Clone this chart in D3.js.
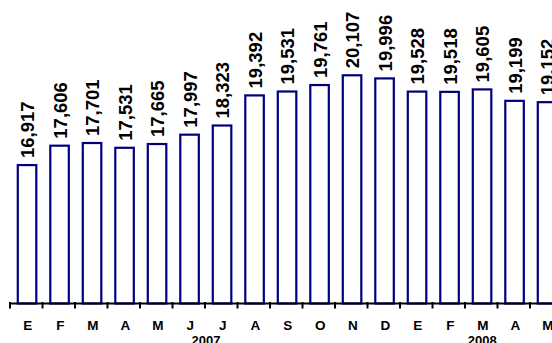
<!DOCTYPE html>
<html>
<head>
<meta charset="utf-8">
<script src="https://cdn.jsdelivr.net/npm/d3@7"></script>
<style>
  html, body { margin: 0; padding: 0; background: #fff; }
  svg { display: block; }
  text { font-family: "Liberation Sans", Arial, sans-serif; font-weight: bold; fill: #000; }
</style>
</head>
<body>
<svg id="chart" width="552" height="343"></svg>
<script>
// Monthly values, Jan 2007 – May 2008 (Spanish month initials)
const months = ["E","F","M","A","M","J","J","A","S","O","N","D","E","F","M","A","M"];
const values = [16917,17606,17701,17531,17665,17997,18323,19392,19531,19761,20107,19996,19528,19518,19605,19199,19152];
const yearLabels = ["2007", "2008"];
const yearStart = [0, 12];
const yearEnd = [11, 16];

const W = 552, H = 343;
const svg = d3.select("#chart");

const baseY = 303.5;
const x = d3.scaleBand()
  .domain(d3.range(months.length))
  .range([10, 10 + 32.5 * months.length])
  .paddingInner(0.43)
  .paddingOuter(0.215);

const y = d3.scaleLinear()
  .domain([12000, 22000])
  .range([baseY, 22]);

const fmt = d3.format(",");

// Bars
svg.append("g")
  .selectAll("rect")
  .data(values)
  .join("rect")
  .attr("x", (d, i) => x(i) + 0.8)
  .attr("y", d => y(d))
  .attr("width", x.bandwidth())
  .attr("height", d => baseY - y(d))
  .attr("fill", "#fff")
  .attr("stroke", "#00007f")
  .attr("stroke-width", 2.2);

// Value labels, rotated
svg.append("g")
  .selectAll("text")
  .data(values)
  .join("text")
  .attr("transform", (d, i) => `translate(${x(i) + x.bandwidth() / 2 + 8},${y(d) - 7}) rotate(-90)`)
  .attr("font-size", 18.5)
  .text(d => fmt(d));

// Category axis
const step = x.step();
const axisG = svg.append("g");
axisG.append("line")
  .attr("x1", 10).attr("x2", W)
  .attr("y1", baseY).attr("y2", baseY)
  .attr("stroke", "#000").attr("stroke-width", 2);

axisG.selectAll("line.tick")
  .data(d3.range(months.length + 1))
  .join("line")
  .attr("class", "tick")
  .attr("x1", i => 10 + i * step)
  .attr("x2", i => 10 + i * step)
  .attr("y1", baseY - 1.5)
  .attr("y2", baseY + 5)
  .attr("stroke", "#000")
  .attr("stroke-width", 2);

axisG.selectAll("text.month")
  .data(months)
  .join("text")
  .attr("class", "month")
  .attr("x", (d, i) => x(i) + x.bandwidth() / 2 + 1.5)
  .attr("y", 330)
  .attr("text-anchor", "middle")
  .attr("font-size", 13.5)
  .text(d => d);

axisG.selectAll("text.year")
  .data(yearLabels)
  .join("text")
  .attr("class", "year")
  .attr("x", (d, i) => (x(yearStart[i]) + x(yearEnd[i]) + x.bandwidth()) / 2 + 1)
  .attr("y", 345)
  .attr("text-anchor", "middle")
  .attr("font-size", 13)
  .text(d => d);
</script>
</body>
</html>
